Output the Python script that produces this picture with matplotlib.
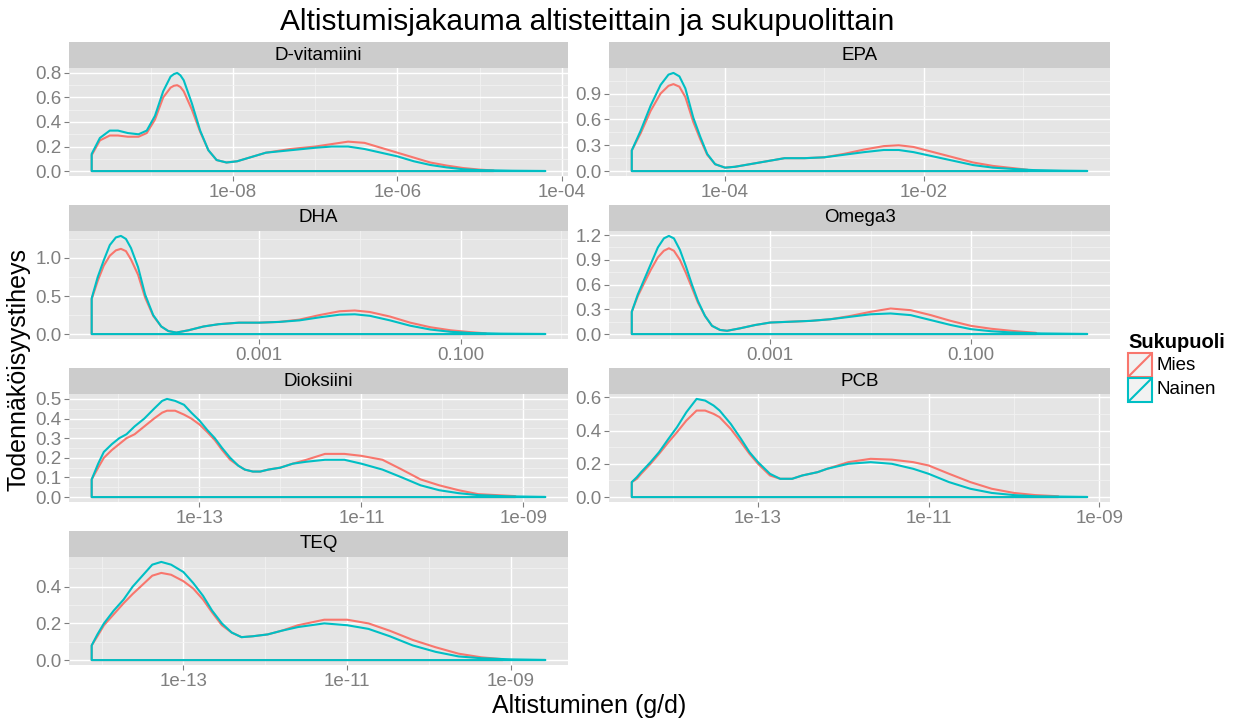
import matplotlib
matplotlib.use("Agg")
import matplotlib.pyplot as plt
from matplotlib.patches import Rectangle
from matplotlib.lines import Line2D

plt.rcParams['font.family'] = ['Liberation Sans', 'DejaVu Sans']

W, H = 1240, 720
COL_MIES = '#F8766D'
COL_NAINEN = '#00BFC4'
GREY_TXT = '#7F7F7F'

# ---- density curves, x = log10(exposure g/d), y = density ----
dvit_nainen_lx = [-9.72, -9.62, -9.50, -9.40, -9.28, -9.15, -9.05, -8.95, -8.85, -8.76, -8.72, -8.68,
                  -8.64, -8.60, -8.50, -8.40, -8.30, -8.20, -8.08, -7.95, -7.80, -7.60, -7.30, -7.00,
                  -6.80, -6.60, -6.40, -6.20, -6.00, -5.80, -5.60, -5.40, -5.20, -5.00, -4.60, -4.20]
dvit_nainen_y = [0.14, 0.27, 0.33, 0.33, 0.31, 0.30, 0.33, 0.45, 0.65, 0.77, 0.79, 0.80,
                 0.78, 0.74, 0.55, 0.33, 0.17, 0.09, 0.07, 0.08, 0.11, 0.15, 0.17, 0.19,
                 0.20, 0.20, 0.18, 0.15, 0.12, 0.08, 0.05, 0.03, 0.015, 0.008, 0.003, 0.001]
dvit_mies_lx = [-9.72, -9.62, -9.50, -9.40, -9.28, -9.15, -9.05, -8.95, -8.85, -8.76, -8.72, -8.68,
                -8.64, -8.60, -8.50, -8.40, -8.30, -8.20, -8.08, -7.95, -7.80, -7.60, -7.30, -7.00,
                -6.80, -6.60, -6.40, -6.20, -6.00, -5.80, -5.60, -5.40, -5.20, -5.00, -4.83]
dvit_mies_y = [0.13, 0.25, 0.29, 0.29, 0.28, 0.28, 0.31, 0.42, 0.60, 0.68, 0.695, 0.70,
               0.685, 0.65, 0.50, 0.32, 0.17, 0.09, 0.07, 0.08, 0.11, 0.15, 0.18, 0.20,
               0.22, 0.24, 0.23, 0.19, 0.15, 0.11, 0.07, 0.045, 0.025, 0.012, 0.005]

epa_nainen_lx = [-4.94, -4.85, -4.75, -4.65, -4.57, -4.52, -4.46, -4.40, -4.32, -4.25, -4.18, -4.10,
                 -4.00, -3.90, -3.75, -3.60, -3.40, -3.20, -3.00, -2.80, -2.60, -2.40, -2.25, -2.10,
                 -1.90, -1.70, -1.50, -1.30, -1.10, -0.90, -0.60, -0.35]
epa_nainen_y = [0.24, 0.47, 0.76, 1.00, 1.12, 1.14, 1.10, 0.96, 0.62, 0.40, 0.20, 0.08,
                0.04, 0.05, 0.08, 0.11, 0.15, 0.15, 0.16, 0.19, 0.22, 0.245, 0.245, 0.22,
                0.17, 0.12, 0.07, 0.04, 0.025, 0.012, 0.005, 0.002]
epa_mies_lx = [-4.94, -4.85, -4.75, -4.65, -4.57, -4.52, -4.46, -4.40, -4.32, -4.25, -4.18, -4.10,
               -4.00, -3.90, -3.75, -3.60, -3.40, -3.20, -3.00, -2.80, -2.60, -2.40, -2.25, -2.10,
               -1.90, -1.70, -1.50, -1.30, -1.10, -0.95]
epa_mies_y = [0.24, 0.44, 0.70, 0.90, 0.99, 1.01, 0.98, 0.86, 0.57, 0.37, 0.19, 0.08,
              0.04, 0.05, 0.08, 0.11, 0.15, 0.15, 0.16, 0.20, 0.25, 0.29, 0.30, 0.28,
              0.22, 0.16, 0.10, 0.06, 0.035, 0.015]

dha_nainen_lx = [-4.66, -4.60, -4.54, -4.48, -4.42, -4.37, -4.32, -4.27, -4.20, -4.13, -4.05, -3.97,
                 -3.90, -3.82, -3.70, -3.55, -3.40, -3.20, -3.00, -2.80, -2.60, -2.40, -2.20, -2.05,
                 -1.90, -1.70, -1.50, -1.30, -1.10, -0.90, -0.60, -0.16]
dha_nainen_y = [0.47, 0.75, 0.97, 1.17, 1.27, 1.29, 1.25, 1.13, 0.88, 0.52, 0.25, 0.10,
                0.04, 0.02, 0.05, 0.10, 0.13, 0.15, 0.15, 0.16, 0.18, 0.22, 0.255, 0.26,
                0.24, 0.18, 0.11, 0.06, 0.03, 0.015, 0.006, 0.002]
dha_mies_lx = [-4.66, -4.60, -4.54, -4.48, -4.42, -4.37, -4.32, -4.27, -4.20, -4.13, -4.05, -3.97,
               -3.90, -3.82, -3.70, -3.55, -3.40, -3.20, -3.00, -2.80, -2.60, -2.40, -2.20, -2.05,
               -1.90, -1.70, -1.50, -1.30, -1.10, -0.90, -0.75]
dha_mies_y = [0.46, 0.70, 0.90, 1.03, 1.10, 1.12, 1.09, 0.98, 0.78, 0.48, 0.24, 0.10,
              0.04, 0.02, 0.05, 0.10, 0.13, 0.15, 0.15, 0.16, 0.19, 0.25, 0.30, 0.31,
              0.29, 0.23, 0.15, 0.09, 0.05, 0.025, 0.01]

omega_nainen_lx = [-4.38, -4.32, -4.26, -4.19, -4.12, -4.06, -4.01, -3.96, -3.90, -3.84, -3.78, -3.72,
                   -3.65, -3.58, -3.50, -3.43, -3.30, -3.15, -3.00, -2.80, -2.60, -2.40, -2.20, -2.00,
                   -1.80, -1.60, -1.40, -1.20, -1.00, -0.80, -0.60, -0.30, 0.16]
omega_nainen_y = [0.27, 0.48, 0.65, 0.85, 1.05, 1.16, 1.19, 1.16, 1.02, 0.82, 0.60, 0.40,
                  0.22, 0.10, 0.05, 0.04, 0.07, 0.11, 0.14, 0.15, 0.16, 0.18, 0.21, 0.24,
                  0.25, 0.23, 0.17, 0.11, 0.06, 0.035, 0.02, 0.008, 0.002]
omega_mies_lx = [-4.38, -4.32, -4.26, -4.19, -4.12, -4.06, -4.01, -3.96, -3.90, -3.84, -3.78, -3.72,
                 -3.65, -3.58, -3.50, -3.43, -3.30, -3.15, -3.00, -2.80, -2.60, -2.40, -2.20, -2.00,
                 -1.80, -1.60, -1.40, -1.20, -1.00, -0.80, -0.60, -0.35]
omega_mies_y = [0.27, 0.46, 0.61, 0.78, 0.93, 1.01, 1.04, 1.01, 0.90, 0.74, 0.56, 0.38,
                0.22, 0.10, 0.05, 0.04, 0.07, 0.11, 0.14, 0.15, 0.16, 0.18, 0.22, 0.27,
                0.31, 0.29, 0.23, 0.16, 0.10, 0.065, 0.04, 0.015]

diox_nainen_lx = [-14.33, -14.25, -14.18, -14.08, -13.99, -13.90, -13.80, -13.68, -13.56, -13.46,
                  -13.40, -13.30, -13.19, -13.10, -13.00, -12.90, -12.81, -12.72, -12.62, -12.52,
                  -12.44, -12.34, -12.25, -12.15, -12.00, -11.85, -11.68, -11.45, -11.21, -11.00,
                  -10.74, -10.50, -10.27, -10.04, -9.80, -9.56, -9.20, -8.73]
diox_nainen_y = [0.09, 0.17, 0.23, 0.27, 0.30, 0.32, 0.36, 0.40, 0.45, 0.49,
                 0.50, 0.49, 0.47, 0.43, 0.39, 0.34, 0.30, 0.25, 0.20, 0.16,
                 0.14, 0.13, 0.13, 0.14, 0.15, 0.17, 0.18, 0.19, 0.19, 0.17,
                 0.14, 0.10, 0.06, 0.035, 0.02, 0.01, 0.004, 0.001]
diox_mies_lx = [-14.33, -14.25, -14.18, -14.08, -13.99, -13.90, -13.80, -13.68, -13.56, -13.46,
                -13.40, -13.30, -13.19, -13.10, -13.00, -12.90, -12.81, -12.72, -12.62, -12.52,
                -12.44, -12.34, -12.25, -12.15, -12.00, -11.85, -11.68, -11.45, -11.21, -11.00,
                -10.74, -10.50, -10.27, -10.04, -9.80, -9.56, -9.10]
diox_mies_y = [0.09, 0.15, 0.20, 0.24, 0.27, 0.30, 0.32, 0.36, 0.40, 0.43,
               0.44, 0.44, 0.42, 0.40, 0.37, 0.33, 0.29, 0.24, 0.19, 0.16,
               0.14, 0.13, 0.13, 0.14, 0.15, 0.17, 0.19, 0.22, 0.22, 0.21,
               0.19, 0.14, 0.09, 0.06, 0.035, 0.015, 0.005]

pcb_nainen_lx = [-14.48, -14.42, -14.37, -14.26, -14.16, -14.05, -13.95, -13.84, -13.72, -13.62,
                 -13.52, -13.45, -13.32, -13.20, -13.10, -13.00, -12.86, -12.74, -12.60, -12.48,
                 -12.30, -12.19, -11.94, -11.68, -11.43, -11.18, -11.00, -10.76, -10.51, -10.26,
                 -10.00, -9.75, -9.14]
pcb_nainen_y = [0.09, 0.12, 0.15, 0.21, 0.27, 0.35, 0.42, 0.51, 0.59, 0.58,
                0.55, 0.52, 0.44, 0.35, 0.27, 0.21, 0.14, 0.11, 0.11, 0.13,
                0.15, 0.17, 0.20, 0.21, 0.20, 0.17, 0.14, 0.09, 0.05, 0.025,
                0.012, 0.005, 0.001]
pcb_mies_lx = [-14.48, -14.42, -14.37, -14.26, -14.16, -14.05, -13.95, -13.84, -13.72, -13.62,
               -13.52, -13.45, -13.32, -13.20, -13.10, -13.00, -12.86, -12.74, -12.60, -12.48,
               -12.30, -12.19, -11.94, -11.68, -11.43, -11.18, -11.00, -10.76, -10.51, -10.26,
               -10.00, -9.75, -9.48]
pcb_mies_y = [0.09, 0.11, 0.14, 0.20, 0.26, 0.33, 0.39, 0.46, 0.52, 0.52,
              0.50, 0.48, 0.41, 0.33, 0.26, 0.20, 0.13, 0.11, 0.11, 0.13,
              0.15, 0.17, 0.21, 0.23, 0.225, 0.21, 0.19, 0.14, 0.09, 0.05,
              0.025, 0.012, 0.005]

teq_nainen_lx = [-14.12, -14.05, -13.97, -13.85, -13.73, -13.62, -13.50, -13.38, -13.27, -13.15,
                 -13.00, -12.88, -12.76, -12.65, -12.53, -12.41, -12.29, -12.15, -11.97, -11.80,
                 -11.60, -11.28, -11.00, -10.74, -10.48, -10.20, -9.92, -9.64, -9.36, -9.00, -8.58]
teq_nainen_y = [0.08, 0.14, 0.20, 0.27, 0.33, 0.40, 0.46, 0.52, 0.535, 0.52,
                0.48, 0.42, 0.35, 0.27, 0.20, 0.15, 0.125, 0.13, 0.14, 0.16,
                0.18, 0.20, 0.19, 0.17, 0.13, 0.08, 0.045, 0.02, 0.01, 0.004, 0.001]
teq_mies_lx = [-14.12, -14.05, -13.97, -13.85, -13.73, -13.62, -13.50, -13.38, -13.27, -13.15,
               -13.00, -12.88, -12.76, -12.65, -12.53, -12.41, -12.29, -12.15, -11.97, -11.80,
               -11.60, -11.28, -11.00, -10.74, -10.48, -10.20, -9.92, -9.64, -9.36, -9.10]
teq_mies_y = [0.08, 0.13, 0.19, 0.25, 0.31, 0.36, 0.41, 0.46, 0.475, 0.465,
              0.43, 0.39, 0.33, 0.26, 0.19, 0.15, 0.125, 0.13, 0.14, 0.16,
              0.19, 0.22, 0.22, 0.20, 0.16, 0.11, 0.07, 0.035, 0.015, 0.005]

# ---- facet labels and axis breaks ----
facet_names = ['D-vitamiini', 'EPA', 'DHA', 'Omega3', 'Dioksiini', 'PCB', 'TEQ']
xbreaks_dvit = [-8, -6, -4]
xlabels_dvit = ['1e-08', '1e-06', '1e-04']
xbreaks_epa = [-4, -2]
xlabels_epa = ['1e-04', '1e-02']
xbreaks_fish = [-3, -1]
xlabels_fish = ['0.001', '0.100']
xbreaks_pop = [-13, -11, -9]
xlabels_pop = ['1e-13', '1e-11', '1e-09']
ybreaks_dvit = [0.0, 0.2, 0.4, 0.6, 0.8]
ybreaks_epa = [0.0, 0.3, 0.6, 0.9]
ybreaks_dha = [0.0, 0.5, 1.0]
ybreaks_omega = [0.0, 0.3, 0.6, 0.9, 1.2]
ybreaks_diox = [0.0, 0.1, 0.2, 0.3, 0.4, 0.5]
ybreaks_pcb = [0.0, 0.2, 0.4, 0.6]
ybreaks_teq = [0.0, 0.2, 0.4]

panels = [
    (facet_names[0], 0, 0, dvit_mies_lx, dvit_mies_y, dvit_nainen_lx, dvit_nainen_y,
     xbreaks_dvit, xlabels_dvit, ybreaks_dvit),
    (facet_names[1], 0, 1, epa_mies_lx, epa_mies_y, epa_nainen_lx, epa_nainen_y,
     xbreaks_epa, xlabels_epa, ybreaks_epa),
    (facet_names[2], 1, 0, dha_mies_lx, dha_mies_y, dha_nainen_lx, dha_nainen_y,
     xbreaks_fish, xlabels_fish, ybreaks_dha),
    (facet_names[3], 1, 1, omega_mies_lx, omega_mies_y, omega_nainen_lx, omega_nainen_y,
     xbreaks_fish, xlabels_fish, ybreaks_omega),
    (facet_names[4], 2, 0, diox_mies_lx, diox_mies_y, diox_nainen_lx, diox_nainen_y,
     xbreaks_pop, xlabels_pop, ybreaks_diox),
    (facet_names[5], 2, 1, pcb_mies_lx, pcb_mies_y, pcb_nainen_lx, pcb_nainen_y,
     xbreaks_pop, xlabels_pop, ybreaks_pcb),
    (facet_names[6], 3, 0, teq_mies_lx, teq_mies_y, teq_nainen_lx, teq_nainen_y,
     xbreaks_pop, xlabels_pop, ybreaks_teq),
]

COL_X = [(69, 568), (609, 1110)]
ROW_TOP = [42, 205, 368, 531]
STRIP_H, PANEL_H = 26, 108


def px(x0, y0, x1, y1):
    return [x0 / W, 1 - y1 / H, (x1 - x0) / W, (y1 - y0) / H]


def midpoints(vals, lo, hi):
    step = vals[1] - vals[0]
    out = []
    v = vals[0] - step / 2
    while v > lo:
        out.append(v)
        v -= step
    v = vals[0] + step / 2
    while v < hi:
        out.append(v)
        v += step
    return out


fig = plt.figure(figsize=(W / 100, H / 100), dpi=100)

for name, r, c, m_lx, m_y, n_lx, n_y, xb, xl, yb in panels:
    x0, x1 = COL_X[c]
    top = ROW_TOP[r]
    st = fig.add_axes(px(x0, top, x1, top + STRIP_H))
    st.set_facecolor('#CCCCCC')
    st.set_xticks([]); st.set_yticks([])
    for s in st.spines.values():
        s.set_visible(False)
    st.text(0.5, 0.5, name, ha='center', va='center', fontsize=13.5, color='black',
            transform=st.transAxes)

    ax = fig.add_axes(px(x0, top + STRIP_H, x1, top + STRIP_H + PANEL_H))
    ax.set_facecolor('#E5E5E5')
    # geom_density outline: closed polygon down to the baseline
    for lx, y, col in [(m_lx, m_y, COL_MIES), (n_lx, n_y, COL_NAINEN)]:
        xs = [lx[0]] + lx + [lx[-1]]
        ys = [0.0] + y + [0.0]
        ax.fill(xs, ys, fill=False, edgecolor=col, lw=1.5, closed=True, zorder=3,
                joinstyle='round')

    lo = min(m_lx + n_lx); hi = max(m_lx + n_lx)
    pad = 0.05 * (hi - lo)
    ax.set_xlim(lo - pad, hi + pad)
    ymax = max(m_y + n_y)
    ax.set_ylim(-0.05 * ymax, 1.05 * ymax)

    ax.set_xticks(xb, labels=xl)
    ax.set_xticks(midpoints(xb, lo - pad, hi + pad), minor=True)
    ax.set_yticks(yb, labels=[f'{v:.1f}' for v in yb])
    ax.set_yticks(midpoints(yb, -0.05 * ymax, 1.05 * ymax), minor=True)
    ax.grid(which='major', color='white', lw=1.0, zorder=0)
    ax.grid(which='minor', color='#F2F2F2', lw=0.6, zorder=0)
    ax.set_axisbelow(True)
    for s in ax.spines.values():
        s.set_visible(False)
    ax.tick_params(which='major', color=GREY_TXT, labelcolor=GREY_TXT, labelsize=13.5,
                   length=3.5, width=0.8, pad=2)
    ax.tick_params(which='minor', length=0)

fig.text(587 / W, 1 - 22 / H, 'Altistumisjakauma altisteittain ja sukupuolittain',
         ha='center', va='center', fontsize=21.5, color='black')
fig.text(589 / W, 1 - 706 / H, 'Altistuminen (g/d)', ha='center', va='center',
         fontsize=18, color='black')
fig.text(19 / W, 1 - 370 / H, 'Todennäköisyystiheys', ha='center', va='center',
         rotation=90, fontsize=18, color='black')

# legend
fig.text(1128 / W, 1 - 342 / H, 'Sukupuoli', ha='left', va='center', fontsize=14.5,
         fontweight='bold', color='black')
for i, (lab, col) in enumerate([('Mies', COL_MIES), ('Nainen', COL_NAINEN)]):
    ky = 353 + i * 25
    fig.add_artist(Rectangle((1128 / W, 1 - (ky + 24) / H), 24 / W, 24 / H,
                             transform=fig.transFigure, facecolor='#F2F2F2',
                             edgecolor=col, lw=1.5))
    fig.add_artist(Line2D([1129 / W, 1151 / W], [1 - (ky + 23) / H, 1 - (ky + 1) / H],
                          transform=fig.transFigure, color=col, lw=1.5))
    fig.text(1157 / W, 1 - (ky + 12) / H, lab, ha='left', va='center', fontsize=13.5,
             color='black')

fig.savefig('out.png', dpi=100)
